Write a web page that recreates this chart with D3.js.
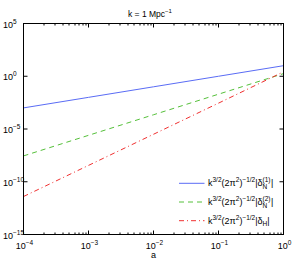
<!DOCTYPE html>
<html>
<head>
<meta charset="utf-8">
<script src="https://cdn.jsdelivr.net/npm/d3@7"></script>
<style>
body { margin: 0; background: #fff; }
svg text { font-family: "Liberation Sans", Arial, sans-serif; fill: #000; }
</style>
</head>
<body>
<div id="chart"></div>
<script>
// scale factor a, one point per decade
var aVals = [1e-4, 1e-3, 1e-2, 1e-1, 1];
// log10 of each series
var logN1 = [-3.0, -2.0, -1.0, 0.0, 1.0];
var logN2 = [-7.55, -5.6, -3.65, -1.7, 0.25];
var logH = [-11.4, -8.45, -5.5, -2.55, 0.42];
var xTickExp = [-4, -3, -2, -1, 0];
var yTickExp = [5, 0, -5, -10, -15];

var width = 294, height = 264;
var margin = {top: 23.5, right: 10.5, bottom: 29.5, left: 23.5};
var w = width - margin.left - margin.right,
  h = height - margin.top - margin.bottom;

var svg = d3.select("#chart").append("svg")
  .attr("width", width)
  .attr("height", height);

var g = svg.append("g")
  .attr("transform", "translate(" + margin.left + "," + margin.top + ")");

var x = d3.scaleLog().domain([1e-4, 1]).range([0, w]);
var y = d3.scaleLog().domain([1e-15, 1e5]).range([h, 0]);

var series = [
  {vals: logN1, color: "#5a6cf5", dash: null},
  {vals: logN2, color: "#55c03a", dash: "5,4"},
  {vals: logH, color: "#f03030", dash: "5,3,1,3"}
];

var line = d3.line()
  .x(function(d) { return x(d[0]); })
  .y(function(d) { return y(d[1]); });

series.forEach(function(s) {
  var pts = aVals.map(function(a, i) { return [a, Math.pow(10, s.vals[i])]; });
  g.append("path")
    .datum(pts)
    .attr("fill", "none")
    .attr("stroke", s.color)
    .attr("stroke-width", 1)
    .attr("stroke-dasharray", s.dash)
    .attr("d", line);
});

// minor + major ticks on x (inward, bottom and top)
var xMinor = [];
for (var e = -4; e < 0; e++) {
  for (var m = 2; m <= 9; m++) xMinor.push(m * Math.pow(10, e));
}
var tickG = g.append("g").attr("stroke", "#000").attr("stroke-width", 1);
xMinor.forEach(function(v) {
  var px = Math.round(x(v)) + 0.5;
  tickG.append("line").attr("x1", px).attr("x2", px).attr("y1", h).attr("y2", h - 2);
  tickG.append("line").attr("x1", px).attr("x2", px).attr("y1", 0).attr("y2", 2);
});
xTickExp.forEach(function(e) {
  var px = x(Math.pow(10, e));
  tickG.append("line").attr("x1", px).attr("x2", px).attr("y1", h).attr("y2", h - 4);
  tickG.append("line").attr("x1", px).attr("x2", px).attr("y1", 0).attr("y2", 4);
});
yTickExp.forEach(function(e) {
  var py = y(Math.pow(10, e));
  tickG.append("line").attr("x1", 0).attr("x2", 4).attr("y1", py).attr("y2", py);
  tickG.append("line").attr("x1", w).attr("x2", w - 4).attr("y1", py).attr("y2", py);
});

// frame
g.append("rect")
  .attr("width", w).attr("height", h)
  .attr("fill", "none").attr("stroke", "#000").attr("stroke-width", 1);

function powLabel(sel, exp) {
  sel.append("tspan").text("10");
  sel.append("tspan").attr("dy", -4).attr("font-size", 6.5).text(exp < 0 ? "\u2212" + (-exp) : exp);
}

// x tick labels
xTickExp.forEach(function(e) {
  var t = g.append("text")
    .attr("x", x(Math.pow(10, e)) + 1)
    .attr("y", h + 14)
    .attr("font-size", 9)
    .attr("text-anchor", "middle");
  powLabel(t, e);
});

// y tick labels
yTickExp.forEach(function(e) {
  var t = svg.append("text")
    .attr("x", 3)
    .attr("y", margin.top + y(Math.pow(10, e)) + 4)
    .attr("font-size", 9);
  powLabel(t, e);
});

// axis label
svg.append("text")
  .attr("x", margin.left + w / 2)
  .attr("y", 258)
  .attr("font-size", 9)
  .attr("text-anchor", "middle")
  .text("a");

// title
var title = svg.append("text")
  .attr("x", 128)
  .attr("y", 16.5)
  .attr("font-size", 8.5);
title.append("tspan").text("k = 1 Mpc");
title.append("tspan").attr("dy", -4).attr("font-size", 6).text("\u22121");

// legend
var legRows = [183.3, 202, 220.7];
var legSub = ["N", "N", "H"];
var legSup = ["(1)", "(2)", null];
series.forEach(function(s, i) {
  var ly = legRows[i];
  svg.append("line")
    .attr("x1", 179).attr("x2", 204.5)
    .attr("y1", ly).attr("y2", ly)
    .attr("stroke", s.color)
    .attr("stroke-width", 1)
    .attr("stroke-dasharray", s.dash);
  var t = svg.append("text")
    .attr("x", 208)
    .attr("y", ly + 3)
    .attr("font-size", 9);
  t.append("tspan").text("k");
  t.append("tspan").attr("dy", -4).attr("font-size", 6.5).text("3/2");
  t.append("tspan").attr("dy", 4).text("(2\u03c0");
  t.append("tspan").attr("dy", -4).attr("font-size", 6.5).text("2");
  t.append("tspan").attr("dy", 4).text(")");
  t.append("tspan").attr("dy", -4).attr("font-size", 6.5).text("\u22121/2");
  t.append("tspan").attr("dy", 4).text("|\u03b4");
  if (legSup[i]) {
    var sx = t.node().getComputedTextLength() + 208;
    t.append("tspan").attr("dy", -4).attr("font-size", 6.5).text(legSup[i]);
    t.append("tspan").attr("x", sx).attr("dy", 6.5).attr("font-size", 6.5).text(legSub[i]);
    t.append("tspan").attr("x", sx + 8.5).attr("dy", -2.5).text("|");
  } else {
    t.append("tspan").attr("dy", 2.5).attr("font-size", 6.5).text(legSub[i]);
    t.append("tspan").attr("dy", -2.5).text("|");
  }
});
</script>
</body>
</html>
